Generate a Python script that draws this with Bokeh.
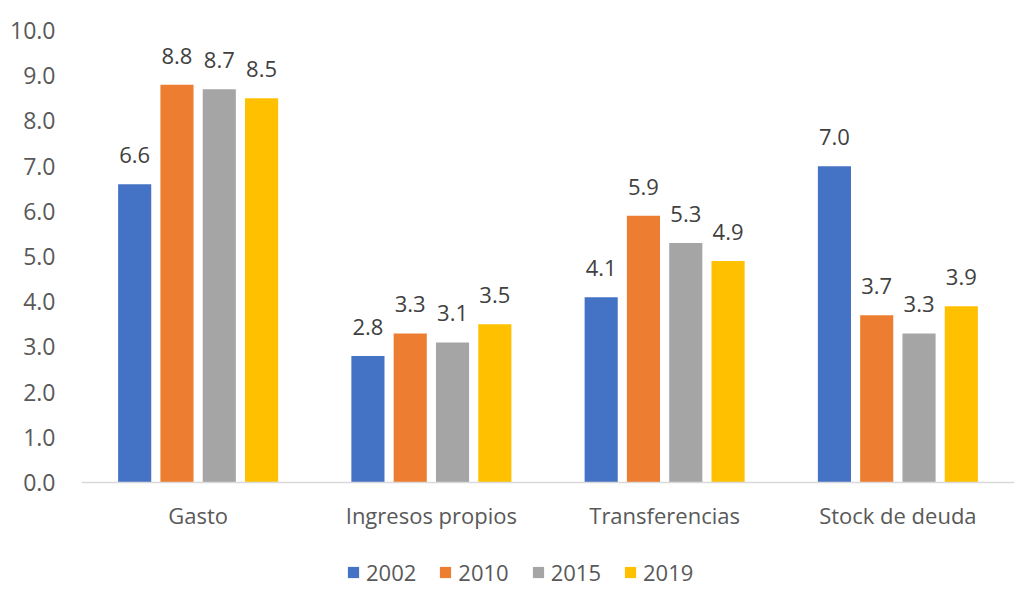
from bokeh.plotting import figure
from bokeh.models import (ColumnDataSource, FactorRange, Legend, LegendItem, Range1d, FixedTicker,
                          NumeralTickFormatter, CategoricalAxis)
from bokeh.transform import dodge
from bokeh.embed import file_html
from bokeh.resources import INLINE
from bokeh.core.properties import value

categories = ["Gasto", "Ingresos propios", "Transferencias", "Stock de deuda"]
years = ["2002", "2010", "2015", "2019"]
v2002 = [6.6, 2.8, 4.1, 7.0]
v2010 = [8.8, 3.3, 5.9, 3.7]
v2015 = [8.7, 3.1, 5.3, 3.3]
v2019 = [8.5, 3.5, 4.9, 3.9]
colors = ["#4472C4", "#ED7D31", "#A5A5A5", "#FFC000"]

series = [v2002, v2010, v2015, v2019]
offsets = [-0.272, -0.0907, 0.0907, 0.272]
FONT = "Open Sans"

p = figure(x_range=FactorRange(*categories, range_padding=0), y_range=Range1d(-2.32, 10),
           width=1016, height=587, output_backend="svg", toolbar_location=None,
           x_axis_location=None,
           min_border_left=81, min_border_right=2, min_border_top=30, min_border_bottom=0)
p.outline_line_color = None
p.background_fill_color = "white"
p.xgrid.grid_line_color = None
p.ygrid.grid_line_color = None

items = []
for yr, vals, col, off in zip(years, series, colors, offsets):
    src = ColumnDataSource(dict(cat=categories, val=vals, lbl=["%.1f" % v for v in vals]))
    r = p.vbar(x=dodge("cat", off, range=p.x_range), top="val", bottom=0, width=0.142, source=src,
               fill_color=col, line_color=None)
    p.text(x=dodge("cat", off, range=p.x_range), y="val", text="lbl", source=src,
           text_align="center", text_baseline="alphabetic", y_offset=-29,
           text_font=value(FONT), text_font_size="22px", text_color="#404040")
    items.append(LegendItem(label=yr, renderers=[r]))

p.yaxis.ticker = FixedTicker(ticks=[0, 1, 2, 3, 4, 5, 6, 7, 8, 9, 10])
p.yaxis.formatter = NumeralTickFormatter(format="0.0")
p.yaxis.axis_line_color = None
p.yaxis.major_tick_line_color = None
p.yaxis.minor_tick_line_color = None
p.yaxis.major_label_text_font = FONT
p.yaxis.major_label_text_font_size = "23px"
p.yaxis.major_label_text_color = "#595959"
p.yaxis.major_label_standoff = 20

xaxis = CategoricalAxis(fixed_location=0)
xaxis.axis_line_color = "#D9D9D9"
xaxis.axis_line_width = 1.5
xaxis.major_tick_line_color = None
xaxis.minor_tick_line_color = None
xaxis.major_label_text_font = FONT
xaxis.major_label_text_font_size = "22px"
xaxis.major_label_text_color = "#595959"
xaxis.major_label_standoff = 11
p.add_layout(xaxis, "below")

legend = Legend(items=items, orientation="horizontal", location=(265, 0),
                glyph_width=14, glyph_height=14, label_standoff=6, spacing=22,
                padding=0, margin=0, border_line_color=None, background_fill_alpha=0,
                label_text_font=FONT, label_text_font_size="22px", label_text_color="#595959")
p.add_layout(legend, "center")

open("out.html", "w").write(file_html(p, INLINE))
